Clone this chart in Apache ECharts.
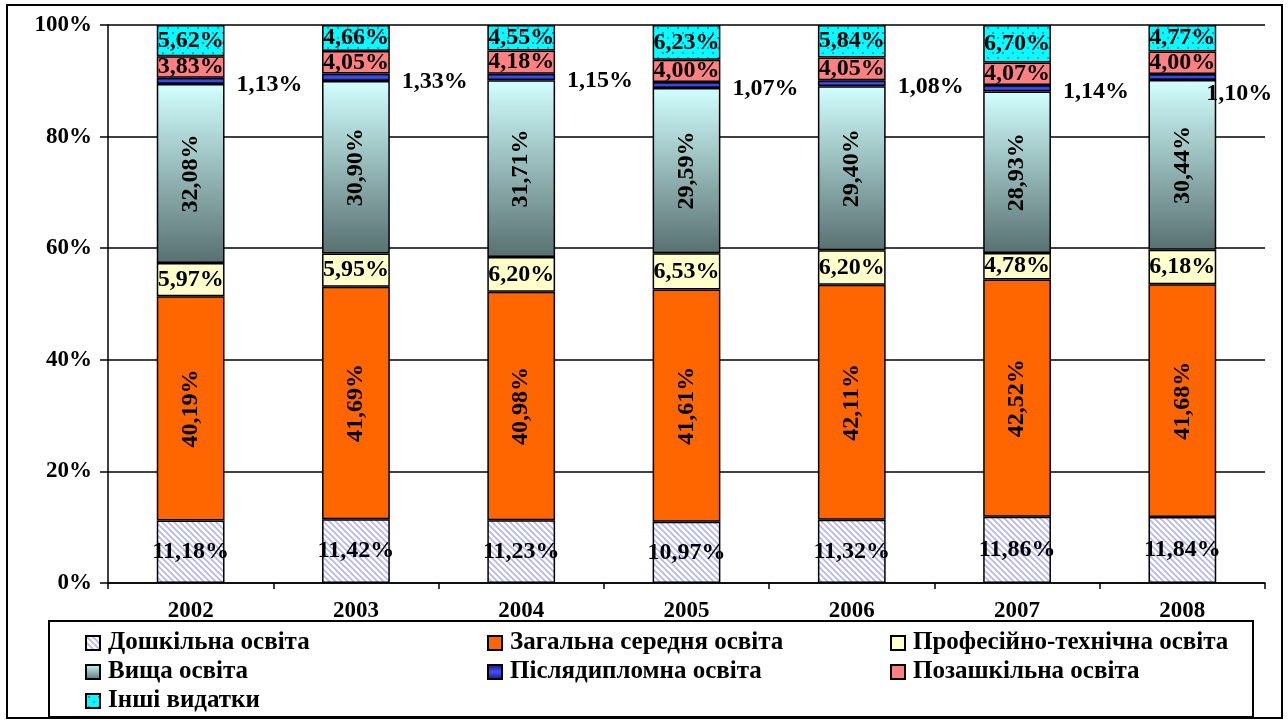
<!DOCTYPE html>
<html>
<head>
<meta charset="utf-8">
<title>Структура видатків на освіту</title>
<script src="https://cdn.jsdelivr.net/npm/echarts@6/dist/echarts.min.js"></script>
<style>
  html, body { margin: 0; padding: 0; background: #ffffff; }
  #chart { width: 1288px; height: 720px; }
</style>
</head>
<body>
<div id="chart"></div>
<script>
// Роки
const years = ['2002', '2003', '2004', '2005', '2006', '2007', '2008'];

// Частки видатків за напрямами, %
const preschool    = [11.18, 11.42, 11.23, 10.97, 11.32, 11.86, 11.84];
const general      = [40.19, 41.69, 40.98, 41.61, 42.11, 42.52, 41.68];
const vocational   = [5.97, 5.95, 6.20, 6.53, 6.20, 4.78, 6.18];
const higher       = [32.08, 30.90, 31.71, 29.59, 29.40, 28.93, 30.44];
const postgraduate = [1.13, 1.33, 1.15, 1.07, 1.08, 1.14, 1.10];
const outOfSchool  = [3.83, 4.05, 4.18, 4.00, 4.05, 4.07, 4.00];
const other        = [5.62, 4.66, 4.55, 6.23, 5.84, 6.70, 4.77];

// Підписи осі значень
const yTicks = [0, 20, 40, 60, 80, 100];

const FONT = '"Liberation Serif", "Times New Roman", serif';

// Штрихування для дошкільної освіти
function stripePattern() {
  const c = document.createElement('canvas');
  c.width = 6; c.height = 6;
  const g = c.getContext('2d');
  g.fillStyle = '#ffffff';
  g.fillRect(0, 0, 6, 6);
  g.strokeStyle = '#b4b4f2';
  g.lineWidth = 1.6;
  g.beginPath();
  g.moveTo(-1, -1); g.lineTo(7, 7);
  g.moveTo(-4, 2); g.lineTo(4, 10);
  g.moveTo(2, -4); g.lineTo(10, 4);
  g.stroke();
  return c;
}

// Крапчаста заливка для інших видатків
function dotPattern() {
  const c = document.createElement('canvas');
  c.width = 10; c.height = 10;
  const g = c.getContext('2d');
  g.fillStyle = '#00ffff';
  g.fillRect(0, 0, 10, 10);
  g.fillStyle = '#3a8cf0';
  g.fillRect(2, 2, 2, 2);
  g.fillRect(7, 7, 2, 2);
  return c;
}

const fmt = v => v.toFixed(2).replace('.', ',') + '%';

const border = { borderColor: '#000000', borderWidth: 1.5 };

const labelBase = {
  show: true,
  fontFamily: FONT,
  fontWeight: 'bold',
  fontSize: 24,
  color: '#000000',
  formatter: p => fmt(p.value)
};

function barSeries(name, data, itemStyle, label) {
  return {
    name: name,
    type: 'bar',
    stack: 'total',
    barWidth: '41%',
    data: data,
    itemStyle: Object.assign({}, border, itemStyle),
    label: Object.assign({}, labelBase, label || { position: 'inside' }),
    emphasis: { disabled: true }
  };
}

const postgradData = postgraduate.map((v, i) => {
  const item = { value: v };
  if (i === postgraduate.length - 1) {
    item.label = { offset: [-22, 17] };
  }
  return item;
});

const series = [
  barSeries('Дошкільна освіта', preschool,
    { color: { image: stripePattern(), repeat: 'repeat' } }),
  barSeries('Загальна середня освіта', general,
    { color: '#ff6600' }, { position: 'inside', rotate: 90 }),
  barSeries('Професійно-технічна освіта', vocational,
    { color: '#ffffcc' }),
  barSeries('Вища освіта', higher, {
    color: {
      type: 'linear', x: 0, y: 0, x2: 0, y2: 1,
      colorStops: [
        { offset: 0, color: '#d2ffff' },
        { offset: 1, color: '#587070' }
      ]
    }
  }, { position: 'inside', rotate: 90 }),
  barSeries('Післядипломна освіта', postgradData, {
    color: {
      type: 'linear', x: 0, y: 0, x2: 0, y2: 1,
      colorStops: [
        { offset: 0, color: '#400060' },
        { offset: 0.5, color: '#3358ff' },
        { offset: 1, color: '#400060' }
      ]
    }
  }, { position: 'right', distance: 12, offset: [0, 4] }),
  barSeries('Позашкільна освіта', outOfSchool,
    { color: '#ff8080' }),
  barSeries('Інші видатки', other,
    { color: { image: dotPattern(), repeat: 'repeat' } })
];

const legendText = {
  fontFamily: FONT,
  fontWeight: 'bold',
  fontSize: 25,
  color: '#000000',
  lineHeight: 26,
  padding: [0, 0, 0, 3]
};

function legendColumn(left, names) {
  return {
    orient: 'vertical',
    left: left,
    top: 630,
    padding: 0,
    itemWidth: 14,
    itemHeight: 14,
    itemGap: 3,
    icon: 'rect',
    selectedMode: false,
    z: 20,
    textStyle: legendText,
    data: names
  };
}

const chart = echarts.init(document.getElementById('chart'), null, { renderer: 'canvas' });

chart.setOption({
  animation: false,
  backgroundColor: '#ffffff',
  grid: { left: 108, top: 25, right: 23, bottom: 137 },
  xAxis: {
    type: 'category',
    data: years,
    axisLine: { lineStyle: { color: '#000000', width: 1.5 } },
    axisTick: { show: true, length: 6, inside: false, lineStyle: { color: '#000000', width: 1.5 } },
    axisLabel: {
      fontFamily: FONT, fontWeight: 'bold', fontSize: 23, color: '#000000', margin: 17
    }
  },
  yAxis: {
    type: 'value',
    min: 0,
    max: 100,
    interval: 20,
    axisLine: { show: true, lineStyle: { color: '#000000', width: 1.5 } },
    axisTick: { show: true, length: 8, lineStyle: { color: '#000000', width: 1.5 } },
    axisLabel: {
      fontFamily: FONT, fontWeight: 'bold', fontSize: 23, color: '#000000', margin: 16,
      formatter: v => (yTicks.indexOf(v) >= 0 ? v + '%' : '')
    },
    splitLine: { show: true, lineStyle: { color: '#000000', width: 1.5 } }
  },
  legend: [
    legendColumn(85, ['Дошкільна освіта', 'Вища освіта', 'Інші видатки']),
    legendColumn(487, ['Загальна середня освіта', 'Післядипломна освіта']),
    legendColumn(890, ['Професійно-технічна освіта', 'Позашкільна освіта'])
  ],
  graphic: [
    {
      type: 'rect',
      z: 10,
      shape: { x: 49, y: 621, width: 1204, height: 96 },
      style: { fill: '#ffffff', stroke: '#000000', lineWidth: 2 }
    },
    {
      type: 'rect',
      z: 10,
      shape: { x: 7, y: 5, width: 1275, height: 713 },
      style: { fill: 'none', stroke: '#000000', lineWidth: 2 }
    }
  ],
  series: series
});
</script>
</body>
</html>
